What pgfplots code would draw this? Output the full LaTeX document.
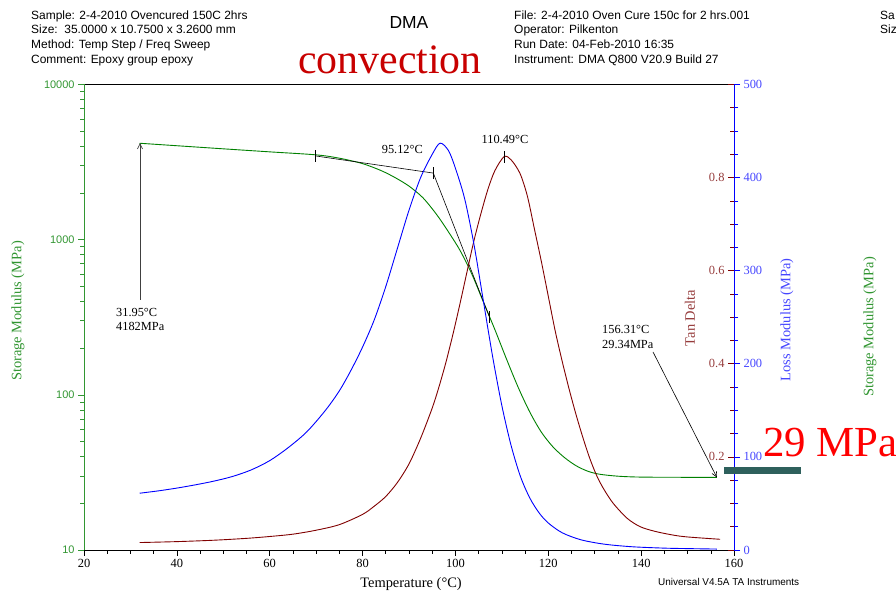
\documentclass[border=0pt]{standalone}
\usepackage{fontspec}
\setmainfont{Liberation Serif}
\newfontfamily\arial{Liberation Sans}
\usepackage{pgfplots}
\pgfplotsset{compat=1.18}
\usetikzlibrary{arrows.meta}

\definecolor{smgreen}{RGB}{0,128,0}
\definecolor{smlabel}{RGB}{50,150,50}
\definecolor{tdred}{RGB}{128,0,0}
\definecolor{tdlabel}{RGB}{150,60,60}
\definecolor{lmblue}{RGB}{0,0,255}
\definecolor{lmlabel}{RGB}{70,70,255}
\definecolor{tealbar}{RGB}{46,96,92}
\definecolor{convred}{RGB}{200,0,0}

\newcommand\fs[1]{\fontsize{#1}{#1}\selectfont}

% the three axes share one frame
\pgfplotsset{dmabase/.style={
  at={(84bp,44bp)}, anchor=south west, scale only axis,
  width=650bp, height=465.5bp, xmin=20, xmax=160,
  /pgf/number format/assume math mode=true,
  major tick length=6bp, minor tick length=4bp,
  every tick/.style={line width=0.6bp},
}}

\begin{document}
\begin{tikzpicture}[x=1bp,y=1bp]
\useasboundingbox (0,0) rectangle (896,594);

% storage modulus (log, left)
\begin{axis}[dmabase,
  ymode=log, ymin=10, ymax=10000,
  axis x line*=box, axis y line*=left,
  x axis line style={black, line width=0.8bp},
  y axis line style={smlabel, line width=0.8bp},
  xtick={20,40,...,160}, minor x tick num=3, xtick pos=bottom, xtick align=outside,
  ytick={10,100,1000,10000}, yticklabels={10,100,1000,10000}, ytick align=outside,
  minor ytick={20,30,40,50,60,70,80,90,200,300,400,500,600,700,800,900,2000,3000,4000,5000,6000,7000,8000,9000},
  xticklabel style={font=\fs{12.5}, black},
  yticklabel style={font=\arial\fs{11}, smlabel},
  y tick style={smlabel}, x tick style={black},
]
\addplot[smgreen, line width=0.9bp, smooth, no marks] coordinates {
  (31.95,4182) (40,4030) (50,3850) (60,3680) (70,3520) (75,3350) (80,3090)
  (84,2786) (87,2512) (90,2213) (93,1862) (96,1445) (98.5,1122)
  (101,851) (103.5,603) (106,398) (108.5,263) (111,170) (113.5,112)
  (116,77.6) (118.5,57.5) (121,46.2) (123.5,39.4) (126,34.9) (128.5,32.2)
  (131,30.8) (135,29.9) (140,29.5) (150,29.4) (156.31,29.34)
};
% annotations
\draw[black!75, line width=0.6bp, -{Straight Barb[length=5bp,width=5bp]}]
  (axis cs:32.06,409) -- (axis cs:32.06,4182);
\draw[black, line width=0.6bp] (axis cs:69.75,3468) -- (axis cs:95.23,2686) -- (axis cs:107.3,319);
\coordinate (tA) at (axis cs:69.75,3468);
\coordinate (tB) at (axis cs:95.23,2686);
\coordinate (tC) at (axis cs:107.3,319);
\draw[black, line width=0.6bp, -{Straight Barb[length=5bp,width=5bp]}]
  (axis cs:142.55,189) -- (axis cs:156.31,29.34);
\end{axis}

% tan delta (right, labels inside)
\begin{axis}[dmabase,
  ymin=0, ymax=1, hide x axis, axis y line*=right,
  y axis line style={lmblue, line width=0.8bp},
  ytick={0,0.2,0.4,0.6,0.8,1}, yticklabels={,0.2,0.4,0.6,0.8,},
  minor y tick num=3, ytick align=inside,
  y tick style={tdred},
  yticklabel style={font=\fs{12.5}, tdlabel, anchor=east, xshift=-6bp},
]
\addplot[tdred, line width=0.9bp, smooth, no marks] coordinates {
  (32,0.016) (40,0.018) (48,0.021) (55,0.025) (60,0.029) (65,0.034)
  (70,0.0425) (75,0.0545) (80,0.0765) (82.5,0.094) (85,0.115)
  (87.5,0.145) (90,0.185) (92.5,0.24) (95,0.305) (96.5,0.352) (98,0.405)
  (99.5,0.465) (101,0.53) (102.5,0.598) (104,0.665) (105.5,0.723)
  (107,0.775) (108.5,0.815) (110.49,0.845) (112,0.838) (113.9,0.809)
  (115.5,0.76) (117,0.69) (118.5,0.62) (120,0.545) (121.5,0.47)
  (123,0.405) (124.5,0.345) (126,0.29) (127.5,0.24) (129,0.195)
  (130.5,0.158) (132,0.13) (134,0.10) (137,0.068) (139.8,0.050)
  (143,0.040) (146.9,0.032) (150,0.028) (157,0.023)
};
\coordinate (tD) at (axis cs:110.49,0.845);
\end{axis}

% loss modulus (right, labels outside)
\begin{axis}[dmabase,
  ymin=0, ymax=500, hide x axis, axis y line*=right,
  y axis line style={lmblue, line width=0.8bp},
  ytick={0,100,200,300,400,500}, minor y tick num=3, ytick align=outside,
  y tick style={lmblue},
  yticklabel style={font=\fs{12.5}, lmlabel},
]
\addplot[lmblue, line width=0.9bp, smooth, no marks] coordinates {
  (32,61) (36,63.5) (40,66.5) (44,70) (48,74) (52,79) (56,86) (60,96)
  (64,110) (68,127) (72,150) (75,171) (77.5,193) (80,218) (82.5,247)
  (85,283) (87.5,324) (90,365) (92.5,400) (95,425) (96.7,437) (98.5,429)
  (100,410) (102,377) (104,328) (106,268) (108,208) (110,155) (112,112)
  (114,79) (116,56) (118,40) (120,29) (123,18.5) (127,11) (132,6.3)
  (138,3.5) (145,2) (150,1.5) (156.3,1)
};
\end{axis}

% tangent ticks
\foreach \c in {tA,tB,tC,tD}
  \draw[black, line width=0.6bp] ([yshift=-6bp]\c) -- ([yshift=6bp]\c);

% header
\begin{scope}[every node/.style={anchor=base west, inner sep=0pt, font=\arial\fs{12}}]
\node at (31,574.7) {Sample: 2-4-2010 Ovencured 150C 2hrs};
\node at (31,560) {Size:\ \ 35.0000 x 10.7500 x 3.2600 mm};
\node at (31,545.7) {Method: Temp Step / Freq Sweep};
\node at (31,530.7) {Comment: Epoxy group epoxy};
\node at (514,574.7) {File: 2-4-2010 Oven Cure 150c for 2 hrs.001};
\node at (514,560) {Operator: Pilkenton};
\node at (514,545.7) {Run Date: 04-Feb-2010 16:35};
\node at (514,530.7) {Instrument: DMA Q800 V20.9 Build 27};
\node at (880,574.7) {Sa};
\node at (880,560) {Siz};
\end{scope}
\node[anchor=base, inner sep=0pt, font=\arial\fs{17.5}] at (409,565) {DMA};
\node[anchor=base west, inner sep=0pt, font=\fs{42}, text=convred] at (298,520) {convection};

% annotation texts
\begin{scope}[every node/.style={anchor=base west, inner sep=0pt, font=\fs{12.4}}]
\node at (116,277.3) {31.95°C};
\node at (116,263.3) {4182MPa};
\node[anchor=base east] at (423,440.7) {95.12°C};
\node[anchor=base] at (505,450) {110.49°C};
\node at (602,260.7) {156.31°C};
\node at (602,245.7) {29.34MPa};
\end{scope}

% axis titles
\node[rotate=90, font=\fs{14.5}, text=smlabel] at (18,283) {Storage Modulus (MPa)};
\node[rotate=90, font=\fs{14.5}, text=tdlabel] at (690,276) {Tan Delta};
\node[rotate=90, font=\fs{14.5}, text=lmlabel] at (787,274) {Loss Modulus (MPa)};
\node[rotate=90, font=\fs{14.5}, text=smlabel] at (870,267) {Storage Modulus (MPa)};
\node[anchor=base, inner sep=0pt, font=\fs{14.5}] at (411,6) {Temperature (°C)};
\node[anchor=base west, inner sep=0pt, font=\arial\fs{10}] at (658,8) {Universal V4.5A TA Instruments};

% overlay
\fill[tealbar] (724,120) rectangle (801,127);
\node[anchor=base west, inner sep=0pt, font=\fs{43}, text=red] at (763,137.3) {29 MPa};
\end{tikzpicture}
\end{document}
